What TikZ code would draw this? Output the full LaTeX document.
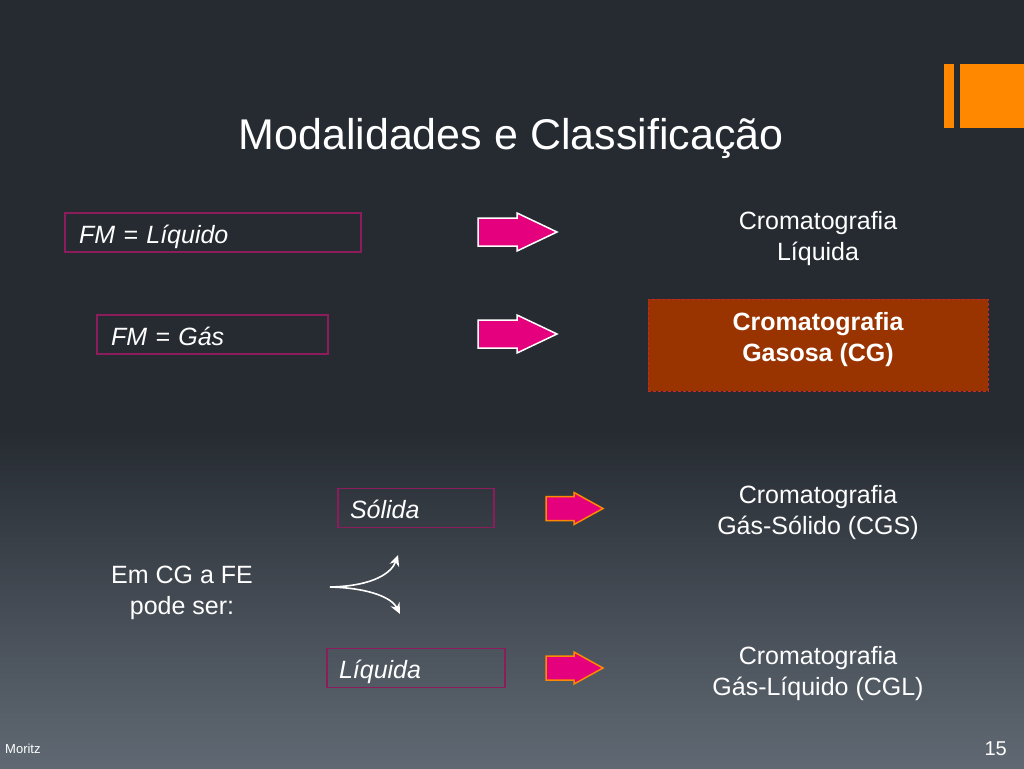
\documentclass[tikz,border=0pt]{standalone}
\usepackage{fontspec}
\setmainfont{Liberation Sans}
\usetikzlibrary{positioning,arrows.meta}

\definecolor{slidetop}{RGB}{38,43,50}
\definecolor{slidebot}{RGB}{96,105,115}
\definecolor{accent}{RGB}{255,136,0}
\definecolor{pinkfill}{RGB}{229,0,126}
\definecolor{fmframe}{RGB}{140,28,92}
\definecolor{cgfill}{RGB}{153,51,0}
\definecolor{cgframe}{RGB}{196,40,40}

\tikzset{
  body/.style={text=white, font=\fontsize{25}{31}\selectfont, align=center, inner sep=0},
  fmbox/.style={draw=fmframe, line width=1.5pt, text=white, font=\fontsize{25}{31}\selectfont\itshape,
    align=left, inner xsep=14pt, inner ysep=0, minimum height=39pt, text height=21pt, text depth=0pt},
  febox/.style={fmbox, inner xsep=12pt},
  cgbox/.style={draw=cgframe, fill=cgfill, line width=0.8pt, dash pattern=on 3pt off 2pt,
    minimum width=340pt, minimum height=92pt, inner sep=0},
  curvearrow/.style={white, line width=1.6pt, -{Stealth[length=11pt, width=10pt]}},
  pics/bigarrow/.style={code={
    \draw[fill=pinkfill, draw=white, line width=1.5pt, line join=miter]
      (0,-14) -- (39,-14) -- (39,-19) -- (79,0) -- (39,19) -- (39,14) -- (0,14) -- cycle;}},
  pics/smallarrow/.style={code={
    \draw[fill=pinkfill, draw=accent, line width=1.5pt, line join=miter]
      (0,-12) -- (28,-12) -- (28,-16) -- (57,0) -- (28,16) -- (28,12) -- (0,12) -- cycle;}}
}

\begin{document}
\begin{tikzpicture}[x=1pt, y=-1pt]
  \useasboundingbox (0,0) rectangle (1024,768);
  % background
  \fill[slidetop] (0,0) rectangle (1024,430);
  \shade[top color=slidetop, bottom color=slidebot] (0,430) rectangle (1024,768);
  \fill[accent] (944,64) rectangle (954,128);
  \fill[accent] (960,64) rectangle (1024,128);

  \node[text=white, font=\fontsize{43}{50}\selectfont, inner sep=0] (title) at (511,138) {Modalidades e Classificação};

  % fase movel
  \node[fmbox, text width=268pt] (fmliq) at (213,232.5) {FM = Líquido};
  \node[fmbox, text width=203pt] (fmgas) at (212.5,334.5) {FM = Gás};
  \pic (arrliq) at (478,232) {bigarrow};
  \pic (arrgas) at (478,334) {bigarrow};
  \node[body] (cl) at (818,239) {Cromatografia\\Líquida};
  \node[cgbox] (cg) at (818,345) {};
  \node[body, font=\fontsize{25}{31}\selectfont\bfseries] (cgtext) at (818,339.5) {Cromatografia\\Gasosa (CG)};

  % fase estacionaria
  \node[body] (emcg) at (182,592.5) {Em CG a FE\\pode ser:};
  \coordinate (fork) at (330,587);
  \coordinate (forkup) at (398,555);
  \coordinate (forkdown) at (400,614);
  \draw[curvearrow] (fork) .. controls (375,586) and (392,572) .. (forkup);
  \draw[curvearrow] (fork) .. controls (370,588) and (392,598) .. (forkdown);
  \node[febox, text width=132pt] (solida) at (416,508) {Sólida};
  \node[febox, text width=154pt] (liquida) at (416,668) {Líquida};
  \pic (arrsol) at (546,508.5) {smallarrow};
  \pic (arrlq) at (546,668) {smallarrow};
  \node[body] (cgs) at (818,513) {Cromatografia\\Gás-Sólido (CGS)};
  \node[body] (cgl) at (818,674) {Cromatografia\\Gás-Líquido (CGL)};

  % rodape
  \node[anchor=base west, text=white, font=\fontsize{13}{15}\selectfont, inner sep=0] (author) at (5,753) {Moritz};
  \node[anchor=base east, text=white, font=\fontsize{20}{24}\selectfont, inner sep=0] (pagenum) at (1007,755) {15};
\end{tikzpicture}
\end{document}
